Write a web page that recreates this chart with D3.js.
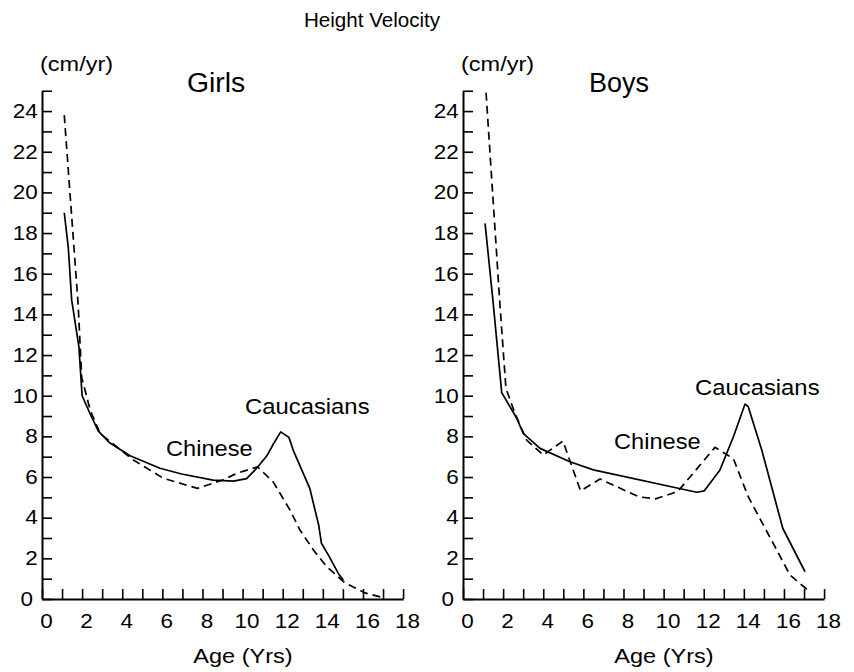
<!DOCTYPE html>
<html>
<head>
<meta charset="utf-8">
<script src="https://cdn.jsdelivr.net/npm/d3@7"></script>
<style>
  html, body { margin: 0; padding: 0; background: #fff; }
  svg { display: block; font-family: "Liberation Sans", Arial, Helvetica, sans-serif; }
</style>
</head>
<body>
<svg id="chart" width="854" height="672"></svg>
<script>
// Height velocity (cm/yr) by age (yrs): [age, velocity]
const girlsCaucasians = [
  [1.11, 19.0], [1.31, 17.3], [1.48, 14.7], [1.84, 12.4], [2.0, 10.0],
  [2.4, 9.1], [2.81, 8.26], [3.39, 7.67], [4.39, 7.05], [5.88, 6.43],
  [6.96, 6.15], [8.53, 5.85], [9.55, 5.8], [10.2, 5.92], [10.7, 6.43],
  [11.2, 7.03], [11.55, 7.65], [11.9, 8.22], [12.31, 7.95], [12.53, 7.3],
  [13.35, 5.44], [13.8, 3.6], [13.93, 2.74], [14.3, 2.12], [14.77, 1.26],
  [15.02, 0.93]
];
const girlsChinese = [
  [1.11, 23.8], [1.8, 14.5], [1.98, 10.9], [2.4, 9.3], [2.89, 8.15],
  [3.72, 7.49], [4.55, 6.84], [6.05, 5.94], [7.75, 5.44], [9.0, 5.85],
  [9.71, 6.18], [10.75, 6.5], [11.53, 5.75], [12.36, 4.38], [12.86, 3.39],
  [13.53, 2.41], [14.19, 1.59], [15.1, 0.8], [16.1, 0.3], [17.0, 0.07]
];
const boysCaucasians = [
  [1.1, 18.48], [1.5, 14.6], [1.93, 10.15], [2.68, 8.89], [3.0, 8.15],
  [3.84, 7.41], [5.33, 6.75], [6.5, 6.35], [11.65, 5.25], [12.03, 5.32],
  [12.81, 6.35], [13.48, 7.98], [14.06, 9.59], [14.22, 9.46], [14.9, 7.3],
  [15.94, 3.48], [17.05, 1.34]
];
const boysChinese = [
  [1.15, 24.9], [1.84, 14.5], [2.14, 10.36], [2.59, 9.13], [3.17, 7.82],
  [4.0, 7.08], [4.98, 7.77], [5.86, 5.32], [6.83, 5.9], [8.78, 5.02],
  [9.6, 4.93], [10.7, 5.28], [12.56, 7.46], [13.48, 6.9], [14.22, 5.03],
  [15.64, 2.41], [16.3, 1.18], [17.21, 0.42]
];

const xTicks = d3.range(0, 19, 1);          // 0..18, labelled every 2
const yTicks = d3.range(0, 26, 1);          // 0..25, labelled every 2
const chartTitle = "Height Velocity";
const yUnit = "(cm/yr)";
const xTitle = "Age (Yrs)";

const panels = [
  { name: "Girls", left: 42, caucasians: girlsCaucasians, chinese: girlsChinese,
    nameX: 216, nameScale: 1.05,
    chineseLabel: [166, 456], caucasiansLabel: [245, 414] },
  { name: "Boys", left: 463, caucasians: boysCaucasians, chinese: boysChinese,
    nameX: 619, nameScale: 1.0,
    chineseLabel: [614, 449], caucasiansLabel: [695, 395] }
];

const svg = d3.select("#chart");

// Text helper: horizontally widened type, anchored at (x, y)
function label(parent, txt, x, y, size, anchor, sx) {
  parent.append("text")
    .attr("transform", `translate(${x},${y}) scale(${sx || 1},1)`)
    .attr("text-anchor", anchor || "start")
    .attr("font-size", size)
    .attr("fill", "#000")
    .text(txt);
}

label(svg, chartTitle, 372, 27, 20, "middle", 1.03);

const plotBottom = 599;
const plotTop = 599 - 25 * 20.33;
const plotWidth = 18 * 20.06;

panels.forEach(p => {
  const x = d3.scaleLinear().domain([0, 18]).range([p.left, p.left + plotWidth]);
  const y = d3.scaleLinear().domain([0, 25]).range([plotBottom, plotTop]);
  const g = svg.append("g");

  // y axis, ticks pointing inward
  const yAxis = d3.axisLeft(y)
    .tickValues(yTicks)
    .tickSizeInner(-10).tickSizeOuter(0).tickPadding(5)
    .tickFormat(d => d % 2 === 0 ? d : "");
  const ya = g.append("g").attr("transform", `translate(${p.left},0)`).call(yAxis);

  // x axis, ticks pointing inward
  const xAxis = d3.axisBottom(x)
    .tickValues(xTicks)
    .tickSizeInner(-10).tickSizeOuter(0).tickPadding(14)
    .tickFormat(d => d % 2 === 0 ? d : "");
  const xa = g.append("g").attr("transform", `translate(0,${plotBottom})`).call(xAxis);

  [ya, xa].forEach(a => {
    a.select(".domain").attr("stroke", "#000").attr("stroke-width", 2);
    a.selectAll(".tick line").attr("stroke", "#000").attr("stroke-width", 1.6);
    a.selectAll(".tick text")
      .attr("font-family", "Liberation Sans, Arial, sans-serif")
      .attr("font-size", 21).attr("fill", "#000");
  });
  ya.selectAll(".tick text").attr("dy", "0.3em")
    .attr("transform", "scale(1.07,1)").attr("x", -4);
  xa.selectAll(".tick text").attr("dy", "0.71em")
    .attr("transform", "translate(4,0) scale(1.07,1)");
  // the 0 on the y axis sits further left, beside the x axis
  ya.selectAll(".tick text").filter(d => d === 0).attr("x", -8.5);

  const line = d3.line().x(d => x(d[0])).y(d => y(d[1]));

  g.append("path").datum(p.caucasians)
    .attr("d", line).attr("fill", "none")
    .attr("stroke", "#000").attr("stroke-width", 1.7)
    .attr("stroke-linejoin", "round");

  g.append("path").datum(p.chinese)
    .attr("d", line).attr("fill", "none")
    .attr("stroke", "#000").attr("stroke-width", 1.7)
    .attr("stroke-dasharray", "8,5");

  label(g, yUnit, p.left - 2, 71, 21, "start", 1.12);
  label(g, p.name, p.nameX, 92, 27, "middle", p.nameScale);
  label(g, "Chinese", p.chineseLabel[0], p.chineseLabel[1], 22.5, "start", 1.05);
  label(g, "Caucasians", p.caucasiansLabel[0], p.caucasiansLabel[1], 22.5, "start", 1.06);
  label(g, xTitle, p.left + 201, 663, 21, "middle", 1.12);
});
</script>
</body>
</html>
